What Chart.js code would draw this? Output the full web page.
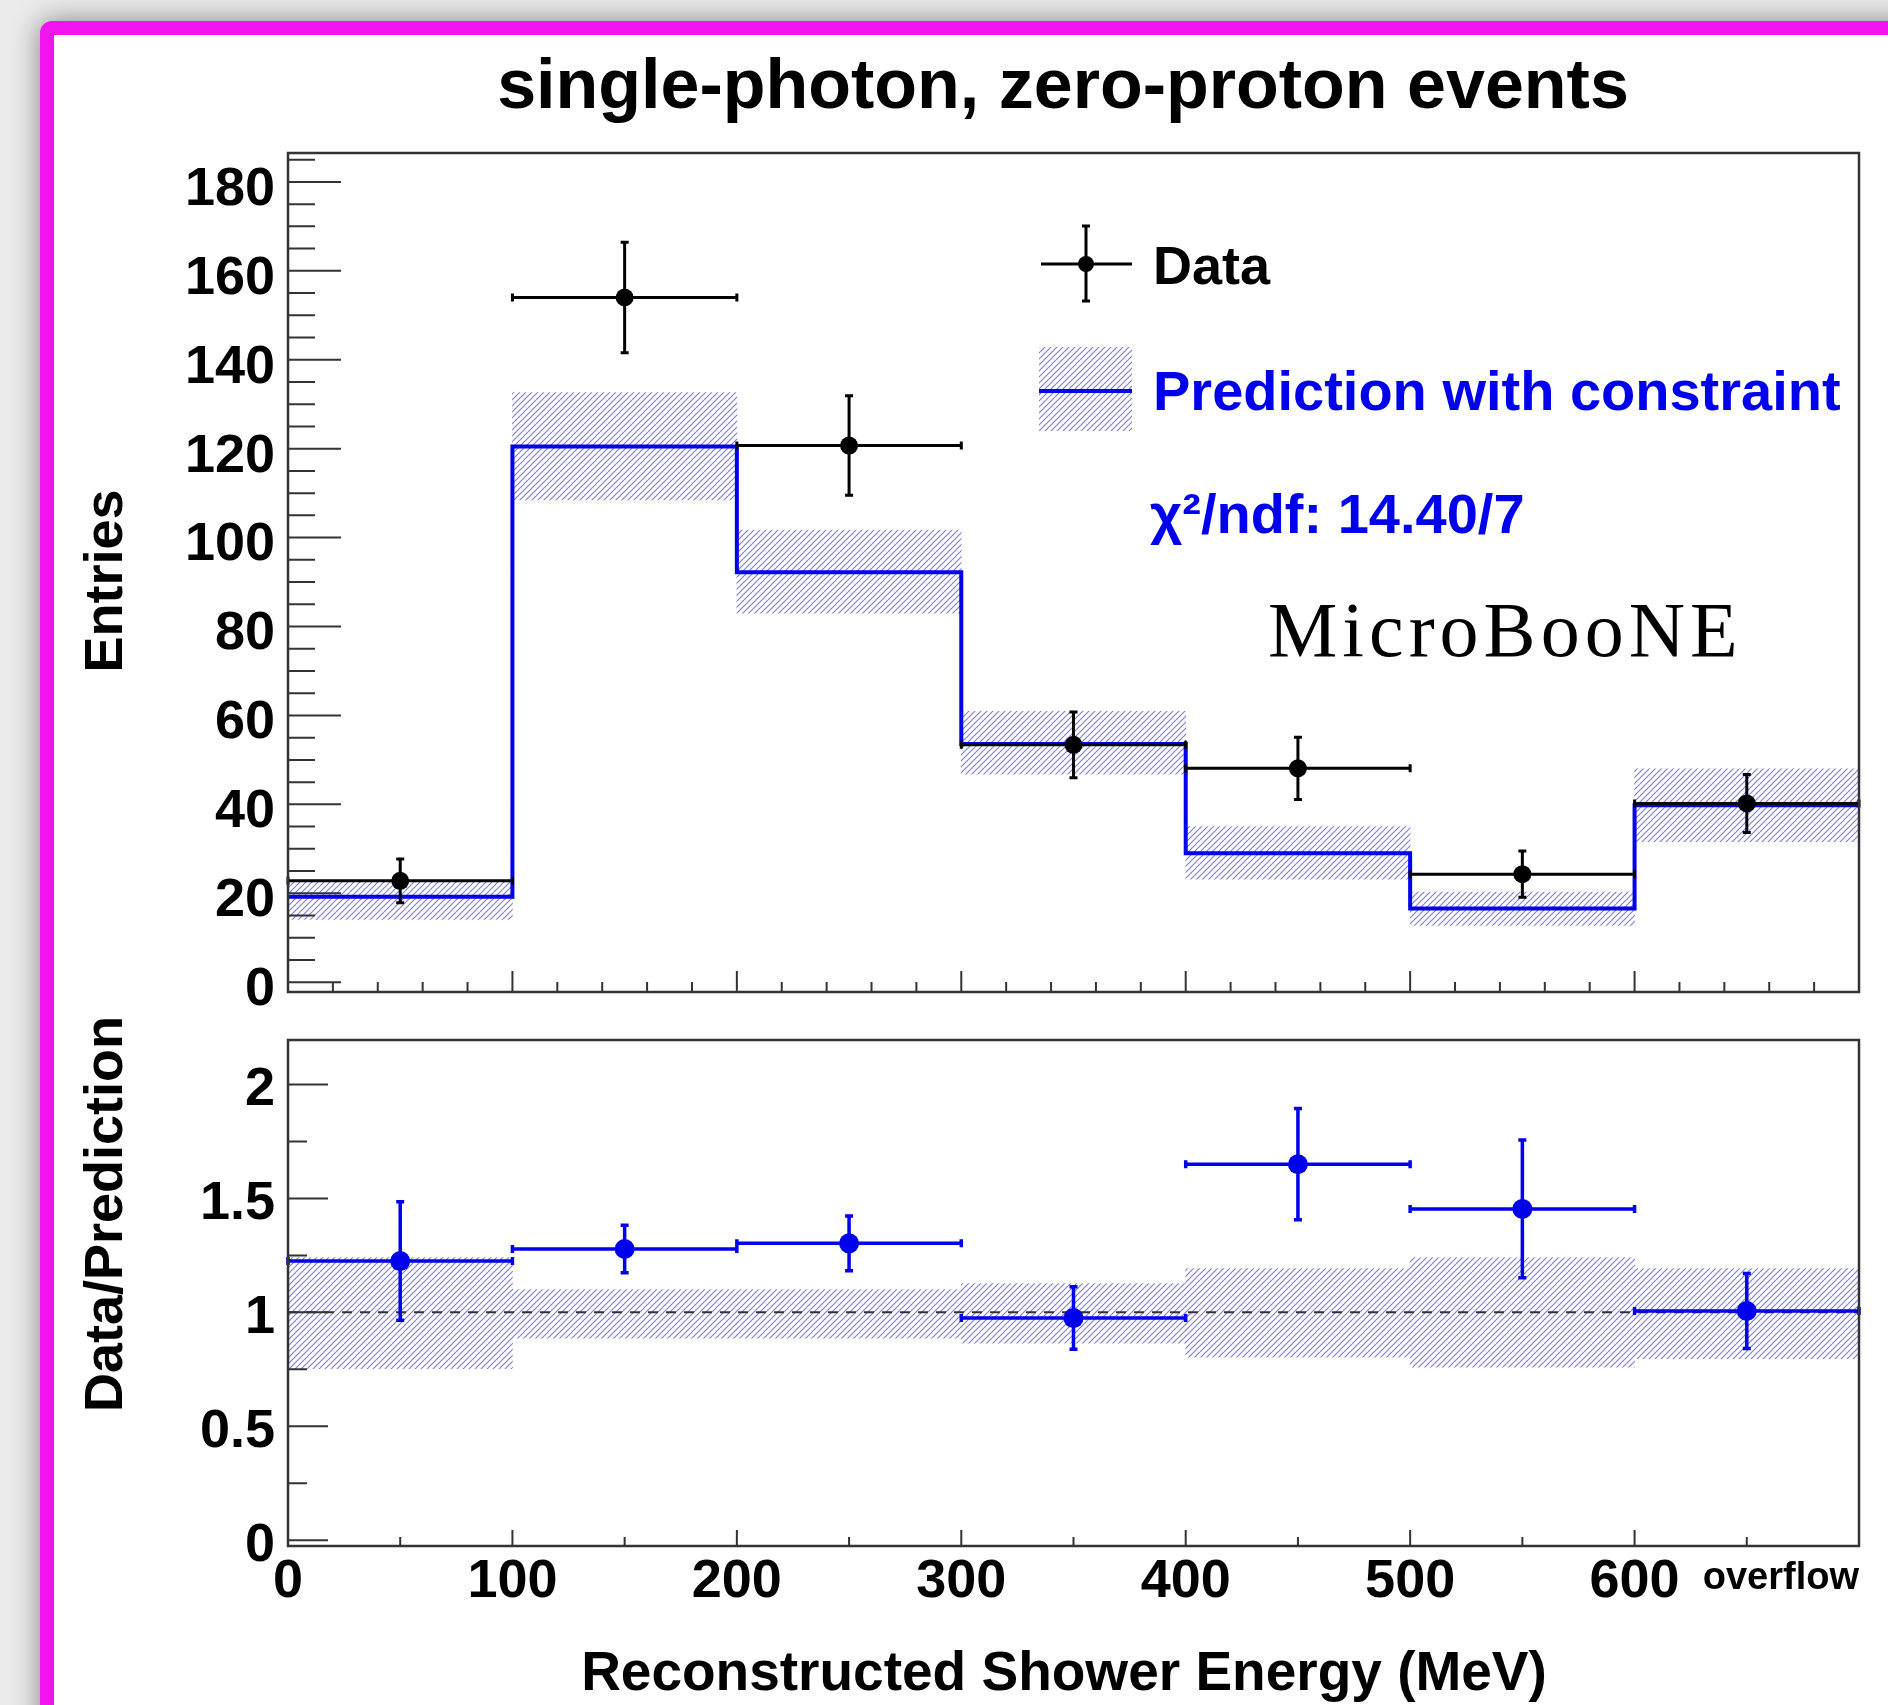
<!DOCTYPE html>
<html>
<head>
<meta charset="utf-8">
<script src="https://cdn.jsdelivr.net/npm/chart.js@4.4.1/dist/chart.umd.min.js"></script>
<style>
  html, body { margin: 0; padding: 0; }
  body { width: 1888px; height: 1705px; overflow: hidden; background: #ebebeb; position: relative; }
  #frame { position: absolute; left: 40px; top: 21px; width: 1900px; height: 1760px; box-sizing: border-box;
           border: 14px solid #f114ef; border-radius: 12px; background: #fff; box-shadow: 0 0 28px rgba(0,0,0,0.45); }
  canvas { position: absolute; left: 0; }
  #upperChart { top: 0; }
  #lowerChart { top: 980px; }
</style>
</head>
<body>
<div id="frame"></div>
<canvas id="upperChart" width="1888" height="1052"></canvas>
<canvas id="lowerChart" width="1888" height="725"></canvas>
<script>
// shower energy bins (MeV), last one is the overflow bin
const binLow    = [0, 100, 200, 300, 400, 500, 600];
const binHigh   = [100, 200, 300, 400, 500, 600, 700];
const binCenter = [50, 150, 250, 350, 450, 550, 650];

// upper panel: entries
const dataCounts = [22.8, 154.0, 120.7, 53.4, 48.1, 24.3, 40.2];
const dataErr    = [4.9, 12.4, 11.2, 7.4, 7.0, 5.2, 6.5];
const predCounts = [19.2, 120.5, 92.2, 53.6, 29.0, 16.6, 39.8];
const predLow    = [14.1, 108.5, 83.0, 46.8, 23.2, 12.8, 31.6];
const predHigh   = [22.6, 132.6, 101.7, 60.9, 35.0, 20.3, 48.0];

// lower panel: data / prediction
const ratio         = [1.225, 1.278, 1.303, 0.975, 1.650, 1.454, 1.006];
const ratioErr      = [0.26, 0.104, 0.12, 0.137, 0.244, 0.302, 0.165];
const ratioBandLow  = [0.753, 0.887, 0.887, 0.865, 0.804, 0.760, 0.797];
const ratioBandHigh = [1.240, 1.100, 1.100, 1.126, 1.192, 1.240, 1.192];

// tick labels
const entriesTicks = [0, 20, 40, 60, 80, 100, 120, 140, 160, 180];
const ratioTicks   = [0, 0.5, 1, 1.5, 2];
const energyTicks  = [0, 100, 200, 300, 400, 500, 600];

const FONT = '"Liberation Sans", Arial, Helvetica, sans-serif';
const SERIF = '"Liberation Serif", "Times New Roman", serif';
const BLUE = '#0000ee';
const HATCH = '#8080dc';

function makeHatch(ctx) {
  const c = document.createElement('canvas');
  c.width = 6; c.height = 6;
  const g = c.getContext('2d');
  g.strokeStyle = HATCH;
  g.lineWidth = 1.2;
  g.beginPath();
  g.moveTo(0, 6); g.lineTo(6, 0);
  g.moveTo(-3, 3); g.lineTo(3, -3);
  g.moveTo(3, 9); g.lineTo(9, 3);
  g.stroke();
  return ctx.createPattern(c, 'repeat');
}

function range(from, to, step) {
  const out = [];
  for (let v = from; v <= to + 1e-9; v += step) out.push(Math.round(v * 1000) / 1000);
  return out;
}

// ROOT style frame with ticks on the inside
const frameTicks = {
  id: 'frameTicks',
  afterDraw(chart, args, o) {
    const {ctx, chartArea: a, scales: {x, y}} = chart;
    ctx.save();
    ctx.strokeStyle = '#333';
    ctx.lineWidth = 2;
    ctx.beginPath();
    o.yMinor.forEach(v => { const p = y.getPixelForValue(v); ctx.moveTo(a.left, p); ctx.lineTo(a.left + o.yMinorLen, p); });
    o.yMajor.forEach(v => { const p = y.getPixelForValue(v); ctx.moveTo(a.left, p); ctx.lineTo(a.left + o.yMajorLen, p); });
    o.xMinor.forEach(v => { const p = x.getPixelForValue(v); ctx.moveTo(p, a.bottom); ctx.lineTo(p, a.bottom - o.xMinorLen); });
    o.xMajor.forEach(v => { const p = x.getPixelForValue(v); ctx.moveTo(p, a.bottom); ctx.lineTo(p, a.bottom - o.xMajorLen); });
    ctx.stroke();
    ctx.lineWidth = 2.5;
    ctx.strokeRect(a.left, a.top, a.right - a.left, a.bottom - a.top);
    ctx.restore();
  }
};

// x and y error bars for datasets that carry an errorBars entry
const errorBars = {
  id: 'errorBars',
  afterDatasetsDraw(chart) {
    const {ctx, scales: {x, y}} = chart;
    chart.data.datasets.forEach(ds => {
      if (!ds.errorBars) return;
      const e = ds.errorBars;
      const cap = 4;
      ctx.save();
      ctx.strokeStyle = e.color;
      ctx.lineWidth = e.width;
      ctx.beginPath();
      ds.data.forEach((p, i) => {
        const px = x.getPixelForValue(p.x), py = y.getPixelForValue(p.y);
        const x0 = x.getPixelForValue(e.xLow[i]), x1 = x.getPixelForValue(e.xHigh[i]);
        const y0 = y.getPixelForValue(p.y - e.yErr[i]), y1 = y.getPixelForValue(p.y + e.yErr[i]);
        ctx.moveTo(x0, py); ctx.lineTo(x1, py);
        ctx.moveTo(px, y0); ctx.lineTo(px, y1);
        ctx.moveTo(x0, py - cap); ctx.lineTo(x0, py + cap);
        ctx.moveTo(x1, py - cap); ctx.lineTo(x1, py + cap);
        ctx.moveTo(px - cap, y0); ctx.lineTo(px + cap, y0);
        ctx.moveTo(px - cap, y1); ctx.lineTo(px + cap, y1);
      });
      ctx.stroke();
      ctx.restore();
    });
  }
};

function text(ctx, str, x, y, font, color, align, rot) {
  ctx.save();
  ctx.font = font;
  ctx.fillStyle = color;
  ctx.textAlign = align || 'left';
  ctx.textBaseline = 'alphabetic';
  ctx.translate(x, y);
  if (rot) ctx.rotate(rot);
  ctx.fillText(str, 0, 0);
  ctx.restore();
}

const upperTexts = {
  id: 'upperTexts',
  afterDraw(chart) {
    const ctx = chart.ctx;
    text(ctx, 'single-photon, zero-proton events', 1063, 108, `bold 70px ${FONT}`, '#000', 'center');
    text(ctx, 'Entries', 122, 581, `bold 54px ${FONT}`, '#000', 'center', -Math.PI / 2);

    // legend: data marker
    ctx.save();
    ctx.strokeStyle = '#000';
    ctx.lineWidth = 3;
    ctx.beginPath();
    ctx.moveTo(1041, 264); ctx.lineTo(1132, 264);
    ctx.moveTo(1086, 226); ctx.lineTo(1086, 301);
    ctx.moveTo(1082, 226); ctx.lineTo(1090, 226);
    ctx.moveTo(1082, 301); ctx.lineTo(1090, 301);
    ctx.stroke();
    ctx.fillStyle = '#000';
    ctx.beginPath(); ctx.arc(1086, 264, 8, 0, Math.PI * 2); ctx.fill();
    // legend: prediction swatch
    ctx.fillStyle = chart.$hatch;
    ctx.fillRect(1039, 347, 93, 84);
    ctx.strokeStyle = BLUE;
    ctx.lineWidth = 4;
    ctx.beginPath(); ctx.moveTo(1039, 391); ctx.lineTo(1132, 391); ctx.stroke();
    ctx.restore();

    text(ctx, 'Data', 1153, 284, `bold 54px ${FONT}`, '#000');
    text(ctx, 'Prediction with constraint', 1153, 410, `bold 56px ${FONT}`, BLUE);
    text(ctx, '\u03c7\u00b2/ndf: 14.40/7', 1150, 533, `bold 56px ${FONT}`, BLUE);

    ctx.save();
    ctx.letterSpacing = '5px';
    text(ctx, 'MicroBooNE', 1268, 656, `78px ${SERIF}`, '#000');
    ctx.restore();
  }
};

const lowerTexts = {
  id: 'lowerTexts',
  afterDraw(chart) {
    const ctx = chart.ctx;
    const x = chart.scales.x;
    text(ctx, 'Data/Prediction', 122, 234, `bold 54px ${FONT}`, '#000', 'center', -Math.PI / 2);
    text(ctx, 'Reconstructed Shower Energy (MeV)', 1064, 710, `bold 55px ${FONT}`, '#000', 'center');
    text(ctx, 'overflow', x.getPixelForValue(binHigh[binHigh.length - 1]), 609, `bold 38px ${FONT}`, '#000', 'right');
  }
};

const tickFont = {family: FONT, size: 54, weight: 'bold'};

function baseOptions(yMin, yMax, yTicks, showXLabels, padTop, xHeight, yLabelShift, ticksCfg) {
  return {
    responsive: false,
    maintainAspectRatio: false,
    devicePixelRatio: 1,
    animation: false,
    events: [],
    layout: {padding: {left: 0, right: 29, top: padTop, bottom: 0}},
    plugins: {legend: {display: false}, tooltip: {enabled: false}, frameTicks: ticksCfg},
    scales: {
      x: {
        type: 'linear', min: 0, max: 700, offset: false,
        grid: {display: false, drawTicks: false, offset: false},
        border: {display: false},
        afterBuildTicks: s => { s.ticks = energyTicks.map(v => ({value: v})); },
        ticks: {display: showXLabels, font: tickFont, color: '#000', padding: 4, maxRotation: 0, autoSkip: false},
        afterFit: s => { s.height = xHeight; }
      },
      y: {
        type: 'linear', min: yMin, max: yMax,
        grid: {display: false, drawTicks: false},
        border: {display: false},
        afterBuildTicks: s => { s.ticks = yTicks.map(v => ({value: v})); },
        ticks: {font: tickFont, color: '#000', padding: 13, labelOffset: yLabelShift, callback: v => String(v)},
        afterFit: s => { s.width = 288; }
      }
    }
  };
}

// upper panel
const upperCanvas = document.getElementById('upperChart');
const upperHatch = makeHatch(upperCanvas.getContext('2d'));
const upperChart = new Chart(upperCanvas, {
  type: 'scatter',
  data: {
    datasets: [
      {
        type: 'bar',
        data: binCenter.map((c, i) => ({x: c, y: [predLow[i], predHigh[i]]})),
        backgroundColor: upperHatch,
        borderWidth: 0,
        barPercentage: 1,
        categoryPercentage: 1,
        order: 3
      },
      {
        type: 'line',
        data: binLow.map((b, i) => ({x: b, y: predCounts[i]}))
          .concat([{x: binHigh[binHigh.length - 1], y: predCounts[predCounts.length - 1]}]),
        stepped: 'before',
        borderColor: BLUE,
        borderWidth: 4,
        pointRadius: 0,
        fill: false,
        order: 2
      },
      {
        type: 'scatter',
        data: binCenter.map((c, i) => ({x: c, y: dataCounts[i]})),
        pointRadius: 9,
        pointBackgroundColor: '#000',
        pointBorderWidth: 0,
        errorBars: {xLow: binLow, xHigh: binHigh, yErr: dataErr, color: '#000', width: 3},
        order: 1
      }
    ]
  },
  options: baseOptions(-2.2, 186.5, entriesTicks, false, 153, 60, 8, {
    yMajor: range(0, 180, 20), yMinor: range(0, 185, 5), yMajorLen: 53, yMinorLen: 27,
    xMajor: range(0, 700, 100), xMinor: range(0, 700, 20), xMajorLen: 21, xMinorLen: 10
  }),
  plugins: [errorBars, frameTicks, upperTexts]
});
upperChart.$hatch = upperHatch;
upperChart.draw();

// lower panel
const lowerCanvas = document.getElementById('lowerChart');
const lowerHatch = makeHatch(lowerCanvas.getContext('2d'));
new Chart(lowerCanvas, {
  type: 'scatter',
  data: {
    datasets: [
      {
        type: 'bar',
        data: binCenter.map((c, i) => ({x: c, y: [ratioBandLow[i], ratioBandHigh[i]]})),
        backgroundColor: lowerHatch,
        borderWidth: 0,
        barPercentage: 1,
        categoryPercentage: 1,
        order: 3
      },
      {
        type: 'line',
        data: [{x: 0, y: 1}, {x: 700, y: 1}],
        borderColor: '#333',
        borderWidth: 2,
        borderDash: [10, 8],
        pointRadius: 0,
        fill: false,
        order: 2
      },
      {
        type: 'scatter',
        data: binCenter.map((c, i) => ({x: c, y: ratio[i]})),
        pointRadius: 10,
        pointBackgroundColor: BLUE,
        pointBorderWidth: 0,
        errorBars: {xLow: binLow, xHigh: binHigh, yErr: ratioErr, color: BLUE, width: 3.5},
        order: 1
      }
    ]
  },
  options: baseOptions(-0.025, 2.195, ratioTicks, true, 60, 159, 6, {
    yMajor: range(0, 2, 0.5), yMinor: range(0, 2.0, 0.25), yMajorLen: 40, yMinorLen: 19,
    xMajor: range(0, 700, 100), xMinor: range(50, 650, 100), xMajorLen: 16, xMinorLen: 9
  }),
  plugins: [errorBars, frameTicks, lowerTexts]
});
</script>
</body>
</html>
